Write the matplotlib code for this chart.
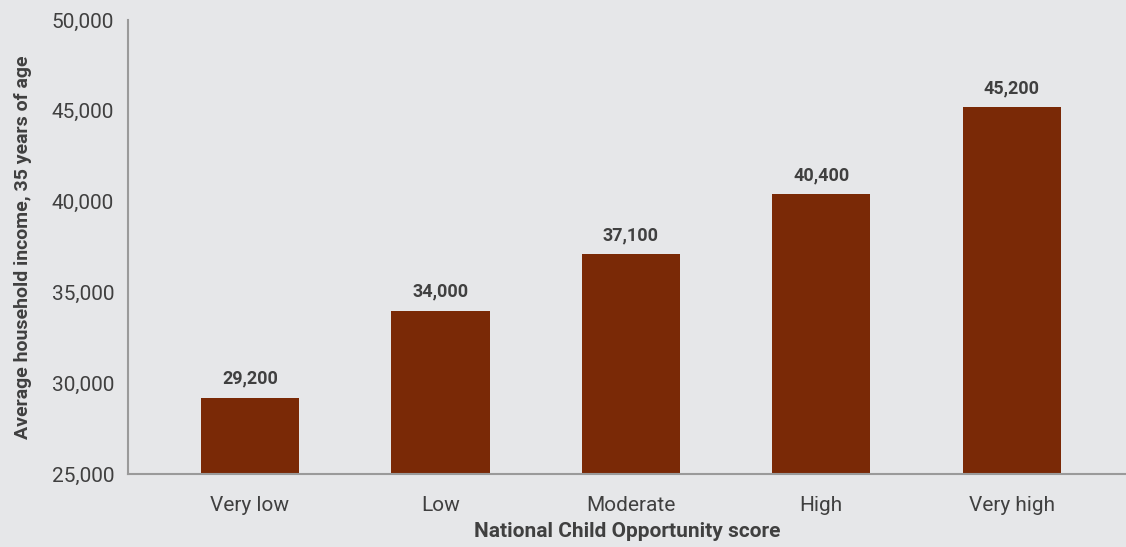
import matplotlib.pyplot as plt
from matplotlib import font_manager
from matplotlib.ticker import FuncFormatter

# data
categories = ['Very low', 'Low', 'Moderate', 'High', 'Very high']
income = [29200, 34000, 37100, 40400, 45200]
yticks = [25000, 30000, 35000, 40000, 45000, 50000]

names = [f.name for f in font_manager.fontManager.ttflist]
if 'Liberation Sans Narrow' in names:
    fam = ['Liberation Sans Narrow', 'DejaVu Sans']
else:
    fam = ['Roboto', 'DejaVu Sans']
plt.rcParams['font.family'] = fam

bg = '#e6e7e9'
txt = '#404040'
bar_col = '#7a2906'

fig = plt.figure(figsize=(11.26, 5.47), dpi=100, facecolor=bg)
ax = fig.add_axes([0.1137, 0.1335, 0.8863, 0.83])
ax.set_facecolor(bg)

x = range(len(categories))
bars = ax.bar(x, income, width=0.516, color=bar_col, bottom=0)

for xi, v in zip(x, income):
    ax.text(xi, v + 550, f'{v:,}', ha='center', va='bottom',
            fontsize=13, fontweight='bold', color=txt)

ax.set_ylim(25000, 50000)
ax.set_xlim(-0.64, 4.6)
ax.set_yticks(yticks)
ax.yaxis.set_major_formatter(FuncFormatter(lambda v, p: f'{int(v):,}'))
ax.set_xticks(list(x))
ax.set_xticklabels(categories)
ax.tick_params(axis='both', length=0, labelsize=15, colors=txt, pad=10)
ax.tick_params(axis='x', pad=16)

for s in ['top', 'right']:
    ax.spines[s].set_visible(False)
for s in ['left', 'bottom']:
    ax.spines[s].set_color('#9a9a9a')
    ax.spines[s].set_linewidth(1.5)

ax.set_xlabel('National Child Opportunity score', fontsize=15,
              fontweight='bold', color=txt, labelpad=5)
ax.set_ylabel('Average household income, 35 years of age', fontsize=14,
              fontweight='bold', color=txt, labelpad=14)

fig.savefig('out.png', dpi=100, facecolor=bg)
